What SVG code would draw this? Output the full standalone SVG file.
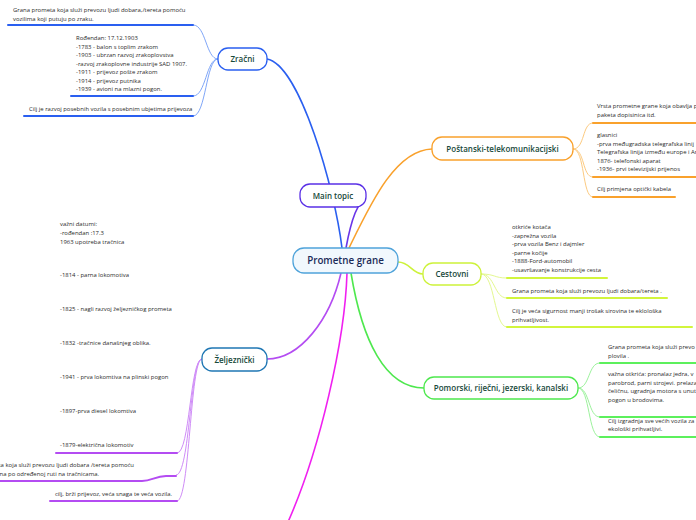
<svg xmlns="http://www.w3.org/2000/svg" width="696" height="520" viewBox="0 0 696 520">
<style>
.n{font-family:"Open Sans","Noto Sans",sans-serif;font-size:8px;font-weight:600;fill:#17493a;text-anchor:middle}
.t{font-family:"Open Sans","Noto Sans",sans-serif;font-size:5.95px;fill:#2b2b2b}
.c{fill:none;stroke-width:1}
.u{fill:none;stroke-width:2;stroke-linecap:round}
.m{fill:none;stroke-width:1.6}
</style>
<rect width="696" height="520" fill="#fff"/>
<g id="connectors">
<path class="m" stroke="#2a5ff0" d="M342,248 C335,190 300,65 267,59"/>
<path class="m" stroke="#6a35e8" d="M346,248 C352,215 358,205 365,196"/>
<path class="m" stroke="#f9a12c" d="M349,248 C370,205 395,150 432,149"/>
<path class="m" stroke="#cdf23a" d="M398,262 C410,262 412,274 423,274"/>
<path class="m" stroke="#4ee84e" d="M351,273 C362,340 385,388 424,388"/>
<path class="m" stroke="#b44cf2" d="M341,273 C330,320 300,359 267,359"/>
<path class="m" stroke="#f020f0" d="M347,273 C345,340 320,450 288,522"/>
<g stroke="#7fa6f8">
<path class="c" d="M218,59 C206,59 206,25 193,25"/>
<path class="c" d="M218,59 C206,59 206,96 193,96"/>
<path class="c" d="M218,59 C206,59 206,116 193,116"/>
</g>
<g stroke="#fcca80">
<path class="c" d="M573,149 C585,149 582,123 593,123"/>
<path class="c" d="M573,149 C585,149 582,177 593,177"/>
<path class="c" d="M573,149 C585,149 582,197 593,197"/>
</g>
<g stroke="#e4f890">
<path class="c" d="M481,274 C495,274 494,278 507,278"/>
<path class="c" d="M481,274 C495,274 494,298 507,298"/>
<path class="c" d="M481,274 C495,274 494,327 507,327"/>
</g>
<g stroke="#9cf29c">
<path class="c" d="M578,388 C590,388 588,363 600,363"/>
<path class="c" d="M578,388 C590,388 588,417 600,417"/>
<path class="c" d="M578,388 C590,388 588,437 600,437"/>
</g>
<g stroke="#cf8cf7">
<path class="c" d="M202,359 C190,359 190,453 177,453"/>
<path class="c" d="M202,359 C190,359 190,475 176,475"/>
<path class="c" d="M202,359 C190,359 190,501 177,501"/>
</g>
</g>
<g id="central">
<rect x="293" y="248" width="105" height="25" rx="11" fill="#f1f8fd" stroke="#4fa3da" stroke-width="1.3"/>
<text class="n" x="345.5" y="264" style="font-size:9.8px;fill:#1b2b58">Prometne grane</text>
</g>
<g id="main-topic">
<rect x="300" y="184" width="66" height="23" rx="10" fill="#fff" stroke="#5a30e6" stroke-width="1.3"/>
<text class="n" x="333" y="198.5">Main topic</text>
</g>
<g id="zracni">
<rect x="218" y="48" width="49" height="22" rx="10" fill="#fff" stroke="#2a5ff0" stroke-width="1.3"/>
<text class="n" x="242.5" y="62">Zračni</text>
</g>
<g id="postanski">
<rect x="432" y="137" width="141" height="23" rx="10" fill="#fff" stroke="#f9a12c" stroke-width="1.3"/>
<text class="n" x="502.5" y="151.5">Poštanski-telekomunikacijski</text>
</g>
<g id="cestovni">
<rect x="423" y="263" width="58" height="22" rx="10" fill="#fff" stroke="#cdf23a" stroke-width="1.3"/>
<text class="n" x="452" y="277">Cestovni</text>
</g>
<g id="pomorski">
<rect x="424" y="377" width="154" height="22" rx="10" fill="#fff" stroke="#4ee84e" stroke-width="1.3"/>
<text class="n" x="501" y="391">Pomorski, riječni, jezerski, kanalski</text>
</g>
<g id="zeljeznicki">
<rect x="202" y="348" width="65" height="23" rx="10" fill="#fff" stroke="#1f77b4" stroke-width="1.3"/>
<text class="n" x="234.5" y="362.5">Željeznički</text>
</g>
<g id="zracni-1">
<path class="u" stroke="#2a5ff0" d="M8,25 H193"/>
<text class="t" x="13" y="12">Grana prometa koja služi prevozu ljudi dobara,/tereta pomoću</text>
<text class="t" x="13" y="21">vozilima koji putuju po zraku.</text>
</g>
<g id="zracni-2">
<path class="u" stroke="#2a5ff0" d="M71,96 H193"/>
<text class="t" x="76" y="40">Rođendan: 17.12.1903</text>
<text class="t" x="76" y="48.5">-1783 - balon s toplim zrakom</text>
<text class="t" x="76" y="57">-1903 - ubrzan razvoj zrakoplovstva</text>
<text class="t" x="76" y="65.5">-razvoj zrakoplovne industrije SAD 1907.</text>
<text class="t" x="76" y="74">-1911 - prijevoz pošte zrakom</text>
<text class="t" x="76" y="82.5">-1914 - prijevoz putnika</text>
<text class="t" x="76" y="91">-1939 - avioni na mlazni pogon.</text>
</g>
<g id="zracni-3">
<path class="u" stroke="#2a5ff0" d="M24,116 H193"/>
<text class="t" x="29" y="111">Cilj je razvoj posebnih vozila s posebnim ubjetima prijevoza</text>
</g>
<g id="postanski-1">
<path class="u" stroke="#f9a12c" d="M593,123 H700"/>
<text class="t" x="597" y="108">Vrsta prometne grane koja obavlja p</text>
<text class="t" x="597" y="117">paketa dopisinica itd.</text>
</g>
<g id="postanski-2">
<path class="u" stroke="#f9a12c" d="M593,177 H700"/>
<text class="t" x="597" y="137">glasnici</text>
<text class="t" x="597" y="145.5">-prva međugradska telegrafska linij</text>
<text class="t" x="597" y="154">Telegrafska linija između europe i Am</text>
<text class="t" x="597" y="162.5">1876- telefonski aparat</text>
<text class="t" x="597" y="171">-1936- prvi televizijski prijenos</text>
</g>
<g id="postanski-3">
<path class="u" stroke="#f9a12c" d="M593,197 H675"/>
<text class="t" x="597" y="191">Cilj primjena optički kabela</text>
</g>
<g id="cestovni-1">
<path class="u" stroke="#d2f53c" d="M507,278 H607"/>
<text class="t" x="512" y="229">otkriće kotača</text>
<text class="t" x="512" y="237.5">-zaprežna vozila</text>
<text class="t" x="512" y="246">-prva vozila Benz i dajmler</text>
<text class="t" x="512" y="254.5">-parne kočije</text>
<text class="t" x="512" y="263">-1888-Ford-automobil</text>
<text class="t" x="512" y="272">-usavršavanje konstrukcije cesta</text>
</g>
<g id="cestovni-2">
<path class="u" stroke="#d2f53c" d="M507,298 H667"/>
<text class="t" x="512" y="293">Grana prometa koja služi prevozu ljudi dobara/tereta .</text>
</g>
<g id="cestovni-3">
<path class="u" stroke="#d2f53c" d="M507,327 H692"/>
<text class="t" x="512" y="313">Cilj je veća sigurnost manji trošak sirovina te eklološka</text>
<text class="t" x="512" y="321.5">prihvatljivost.</text>
</g>
<g id="pomorski-1">
<path class="u" stroke="#5cf05c" d="M600,363 H700"/>
<text class="t" x="608" y="349">Grana prometa koja služi prevo</text>
<text class="t" x="608" y="357.5">plovila .</text>
</g>
<g id="pomorski-2">
<path class="u" stroke="#5cf05c" d="M600,417 H700"/>
<text class="t" x="608" y="376">važna otkrića: pronalaz jedra, v</text>
<text class="t" x="608" y="384.5">parobrod, parni strojevi. prelaza</text>
<text class="t" x="608" y="393">čeličnu, ugradnja motora s unut</text>
<text class="t" x="608" y="401.5">pogon u  brodovima.</text>
</g>
<g id="pomorski-3">
<path class="u" stroke="#5cf05c" d="M600,437 H700"/>
<text class="t" x="608" y="422.5">Cilj izgradnja sve većih vozila za</text>
<text class="t" x="608" y="431">ekološki prihvatljivi.</text>
</g>
<g id="zeljeznicki-1">
<path class="u" stroke="#b44cf2" d="M56,453 H177"/>
<text class="t" x="60" y="226">važni datumi:</text>
<text class="t" x="60" y="235">-rođendan :17.3</text>
<text class="t" x="60" y="243.5">1963 upotreba tračnica</text>
<text class="t" x="60" y="277">-1814 - parna lokomotiva</text>
<text class="t" x="60" y="311">-1825 - nagli razvoj željezničkog prometa</text>
<text class="t" x="60" y="345">-1832 -tračnice današnjeg oblika.</text>
<text class="t" x="60" y="379">-1941 - prva lokomtiva na plinski pogon</text>
<text class="t" x="60" y="413">-1897-prva diesel lokomtiva</text>
<text class="t" x="60" y="447">-1879-električna lokomotiv</text>
</g>
<g id="zeljeznicki-2">
<path class="u" stroke="#b44cf2" d="M-5,481 H142 C152,481 155,476 166,476 H176"/>
<text class="t" x="134" y="467" text-anchor="end">Grana prometa koja služi prevozu ljudi dobara /tereta pomoću</text>
<text class="t" x="99" y="476" text-anchor="end">na po određenoj ruti na tračnicama.</text>
</g>
<g id="zeljeznicki-3">
<path class="u" stroke="#b44cf2" d="M50,501 H177"/>
<text class="t" x="55" y="496">cilj, brži prijevoz, veća snaga te veća vozila.</text>
</g>
<g id="bottom-node">
<text class="t" x="29" y="524">Grana prometa koja se bavi prijenosom dobara</text>
</g>
</svg>
